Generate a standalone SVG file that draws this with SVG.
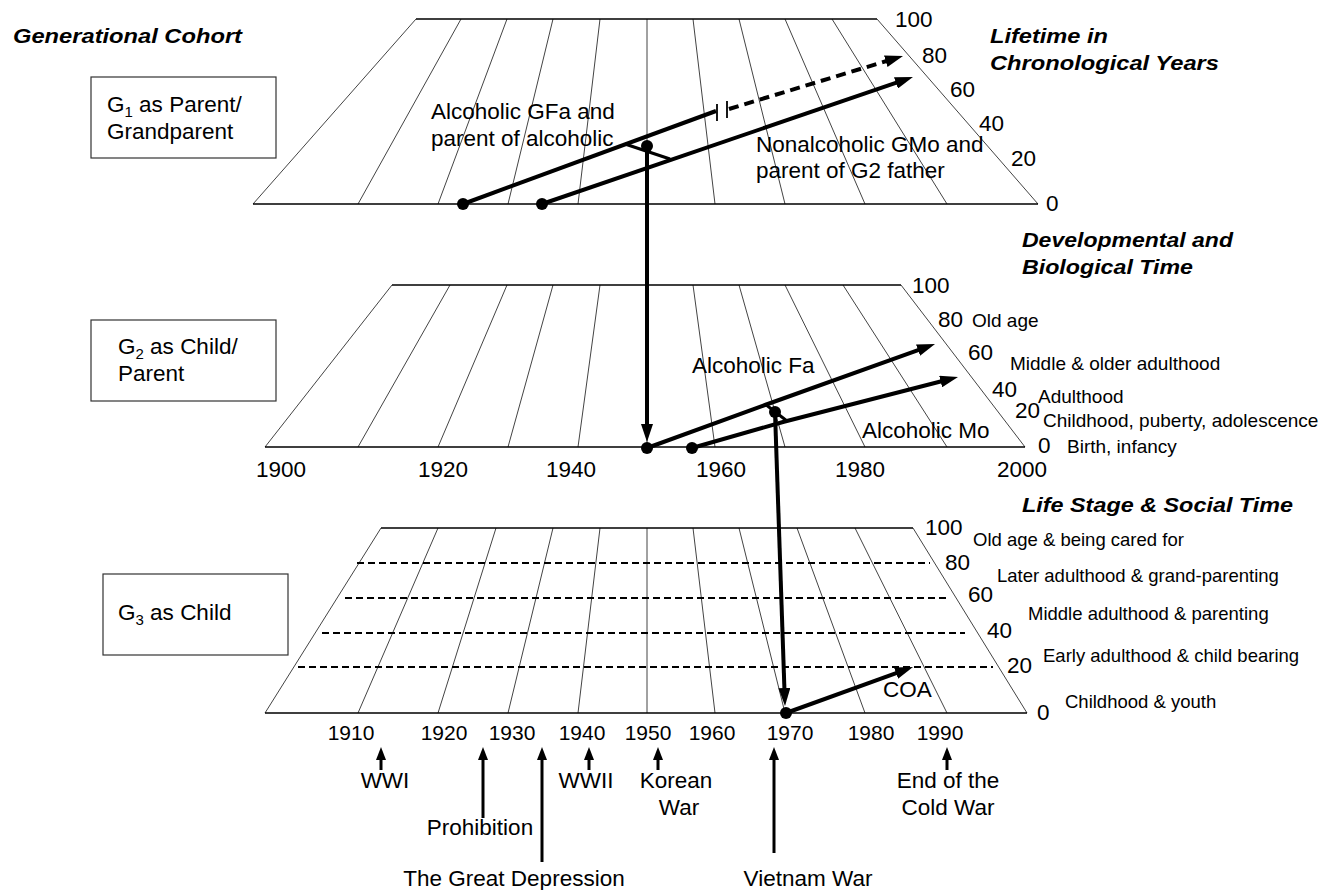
<svg xmlns="http://www.w3.org/2000/svg" width="1326" height="890" viewBox="0 0 1326 890">
<style>
text{font-family:"Liberation Sans",Arial,sans-serif;fill:#000}
.t{font-size:22.5px}
.s{font-size:19px}
.s2{font-size:18.5px}
.y{font-size:21px}
.h{font-size:21px;font-weight:bold;font-style:italic}
.g{stroke:#444;stroke-width:1;fill:none}
.e{stroke:#000;stroke-width:1.3;fill:none}
.box{fill:#fff;stroke:#333;stroke-width:1.2}
.ln{stroke:#000;stroke-width:4;fill:none}
.lk{stroke:#000;stroke-width:3;fill:none}
.ev{stroke:#000;stroke-width:3;fill:none}
.dot{fill:#000}
</style>
<defs>
<marker id="ah" markerUnits="userSpaceOnUse" markerWidth="18" markerHeight="12" refX="6" refY="6" orient="auto">
<path d="M0,0 L18,6 L0,12 z" fill="#000"/>
</marker>
<marker id="ah2" markerUnits="userSpaceOnUse" markerWidth="13" markerHeight="10" refX="4" refY="5" orient="auto">
<path d="M0,0 L13,5 L0,10 z" fill="#000"/>
</marker>
</defs>
<rect width="1326" height="890" fill="#fff"/>

<!-- Headers -->
<g id="headers">
<text class="h" x="13" y="43" textLength="229" lengthAdjust="spacingAndGlyphs">Generational Cohort</text>
<text class="h" x="990" y="43" textLength="118" lengthAdjust="spacingAndGlyphs">Lifetime in</text>
<text class="h" x="990" y="70" textLength="229" lengthAdjust="spacingAndGlyphs">Chronological Years</text>
<text class="h" x="1022" y="247" textLength="211" lengthAdjust="spacingAndGlyphs">Developmental and</text>
<text class="h" x="1022" y="274" textLength="171" lengthAdjust="spacingAndGlyphs">Biological Time</text>
<text class="h" x="1022" y="512" textLength="271" lengthAdjust="spacingAndGlyphs">Life Stage &amp; Social Time</text>
</g>

<!-- Generation boxes -->
<g id="g1-box">
<rect class="box" x="91" y="77" width="185" height="81"/>
<text class="t" x="107" y="112">G<tspan font-size="15" dy="5">1</tspan><tspan dy="-5"> as Parent/</tspan></text>
<text class="t" x="107" y="139">Grandparent</text>
</g>
<g id="g2-box">
<rect class="box" x="91" y="320" width="185" height="81"/>
<text class="t" x="118" y="354">G<tspan font-size="15" dy="5">2</tspan><tspan dy="-5"> as Child/</tspan></text>
<text class="t" x="118" y="381">Parent</text>
</g>
<g id="g3-box">
<rect class="box" x="103" y="574" width="185" height="81"/>
<text class="t" x="118" y="620">G<tspan font-size="15" dy="5">3</tspan><tspan dy="-5"> as Child</tspan></text>
</g>

<!-- Top plane -->
<g id="plane-top">
<path class="g" d="M461,19 L358,204 M507,19 L438,204 M553,19 L508,204 M600,19 L578,204 M647,19 L647,204 M693,19 L715,204 M739,19 L785,204 M785,19 L865,204 M832,19 L947,204"/>
<path class="g" d="M416,19 L253,204 M877,19 L1038,204"/>
<path class="e" d="M416,19 L877,19 M253,204 L1038,204"/>
<text class="t" x="895" y="27">100</text>
<text class="t" x="922" y="63">80</text>
<text class="t" x="950" y="97">60</text>
<text class="t" x="979" y="131">40</text>
<text class="t" x="1011" y="166">20</text>
<text class="t" x="1046" y="211">0</text>
</g>

<!-- Middle plane -->
<g id="plane-middle">
<path class="g" d="M450,285 L358,447 M507,285 L438,447 M553,285 L508,447 M600,285 L578,447 M647,285 L647,447 M693,285 L715,447 M739,285 L785,447 M785,285 L865,447 M843,285 L947,447"/>
<path class="g" d="M392,285 L265,447 M901,285 L1025,447"/>
<path class="e" d="M392,285 L901,285 M265,447 L1025,447"/>
<text class="t" x="912" y="293">100</text>
<text class="t" x="938" y="327">80</text>
<text class="t" x="968" y="360">60</text>
<text class="t" x="992" y="397">40</text>
<text class="t" x="1015" y="418">20</text>
<text class="t" x="1038" y="453">0</text>
<text class="s" x="972" y="327">Old age</text>
<text class="s" x="1010" y="370">Middle &amp; older adulthood</text>
<text class="s" x="1038" y="403">Adulthood</text>
<text class="s" x="1043" y="427">Childhood, puberty, adolescence</text>
<text class="s" x="1067" y="453">Birth, infancy</text>
<g class="t" text-anchor="middle">
<text x="281" y="477">1900</text>
<text x="443" y="477">1920</text>
<text x="571" y="477">1940</text>
<text x="721" y="477">1960</text>
<text x="860" y="477">1980</text>
<text x="1022" y="477">2000</text>
</g>
</g>

<!-- Bottom plane -->
<g id="plane-bottom">
<path class="g" d="M438,528 L358,713 M496,528 L438,713 M553,528 L508,713 M600,528 L578,713 M647,528 L647,713 M693,528 L715,713 M739,528 L785,713 M797,528 L865,713 M855,528 L947,713"/>
<path class="g" d="M381,528 L265,713 M913,528 L1027,713"/>
<path class="e" d="M381,528 L913,528 M265,713 L1027,713"/>
<path stroke="#000" stroke-width="1.8" stroke-dasharray="7,4" fill="none" d="M357,563 L930,563 M345,598 L948,598 M322,633 L965,633 M298,667 L993,667"/>
<text class="t" x="925" y="535">100</text>
<text class="t" x="945" y="570">80</text>
<text class="t" x="968" y="602">60</text>
<text class="t" x="987" y="638">40</text>
<text class="t" x="1007" y="673">20</text>
<text class="t" x="1037" y="720">0</text>
<text class="s2" x="973" y="546">Old age &amp; being cared for</text>
<text class="s2" x="997" y="582">Later adulthood &amp; grand-parenting</text>
<text class="s2" x="1028" y="620">Middle adulthood &amp; parenting</text>
<text class="s2" x="1043" y="662">Early adulthood &amp; child bearing</text>
<text class="s2" x="1065" y="708">Childhood &amp; youth</text>
<g class="y" text-anchor="middle">
<text x="351" y="740">1910</text>
<text x="444" y="740">1920</text>
<text x="512" y="740">1930</text>
<text x="582" y="740">1940</text>
<text x="648" y="740">1950</text>
<text x="712" y="740">1960</text>
<text x="790" y="740">1970</text>
<text x="871" y="740">1980</text>
<text x="940" y="740">1990</text>
</g>
</g>

<!-- Connectors -->
<g id="connectors">
<path class="ln" d="M463,204 L716,111"/>
<path stroke="#000" stroke-width="1.8" d="M717,104 L717,121 M727,101 L727,118"/>
<path class="ln" stroke-width="3.5" stroke-dasharray="10,6" d="M729,109 L891.5,59.5" marker-end="url(#ah)"/>
<path class="ln" d="M542,204 L901.6,80.9" marker-end="url(#ah)"/>
<path class="lk" d="M625,144 L670,159"/>
<path class="ln" d="M647,146 L647,430" marker-end="url(#ah)"/>
<path class="ln" d="M647,448 L765,405 L923.7,348.1" marker-end="url(#ah)"/>
<path class="ln" d="M692,448 L783,422 L946.4,380" marker-end="url(#ah)"/>
<path class="lk" d="M765,404 L787,421"/>
<path class="ln" d="M775,412 L784.6,694" marker-end="url(#ah)"/>
<path class="ln" d="M786,713 L901.7,671.1" marker-end="url(#ah)"/>
<g>
<path class="ev" d="M381,770 L381,756" marker-end="url(#ah2)"/>
<path class="ev" d="M483,818 L483,756" marker-end="url(#ah2)"/>
<path class="ev" d="M542,862 L542,756" marker-end="url(#ah2)"/>
<path class="ev" d="M589,770 L589,756" marker-end="url(#ah2)"/>
<path class="ev" d="M658,770 L658,756" marker-end="url(#ah2)"/>
<path class="ev" d="M774,853 L774,756" marker-end="url(#ah2)"/>
<path class="ev" d="M947,770 L947,756" marker-end="url(#ah2)"/>
</g>
</g>

<!-- Dots -->
<g id="dots">
<circle class="dot" cx="463" cy="204" r="6"/>
<circle class="dot" cx="542" cy="204" r="6"/>
<circle class="dot" cx="647" cy="146" r="6"/>
<circle class="dot" cx="647" cy="448" r="6"/>
<circle class="dot" cx="692" cy="448" r="6"/>
<circle class="dot" cx="775" cy="412" r="6"/>
<circle class="dot" cx="786" cy="713" r="6"/>
</g>

<!-- Lineage labels -->
<g id="labels">
<text class="t" x="431" y="119">Alcoholic GFa and</text>
<text class="t" x="431" y="146">parent of alcoholic</text>
<text class="t" x="756" y="152">Nonalcoholic GMo and</text>
<text class="t" x="756" y="178">parent of G2 father</text>
<text class="t" x="692" y="373">Alcoholic Fa</text>
<text class="t" x="862" y="438">Alcoholic Mo</text>
<text class="t" x="883" y="697">COA</text>
</g>

<!-- Historical events -->
<g id="events" class="t" text-anchor="middle">
<text x="385" y="788">WWI</text>
<text x="480" y="835">Prohibition</text>
<text x="514" y="886">The Great Depression</text>
<text x="586" y="788">WWII</text>
<text x="676" y="788">Korean</text>
<text x="679" y="815">War</text>
<text x="808" y="886">Vietnam War</text>
<text x="948" y="788">End of the</text>
<text x="948" y="815">Cold War</text>
</g>
</svg>
